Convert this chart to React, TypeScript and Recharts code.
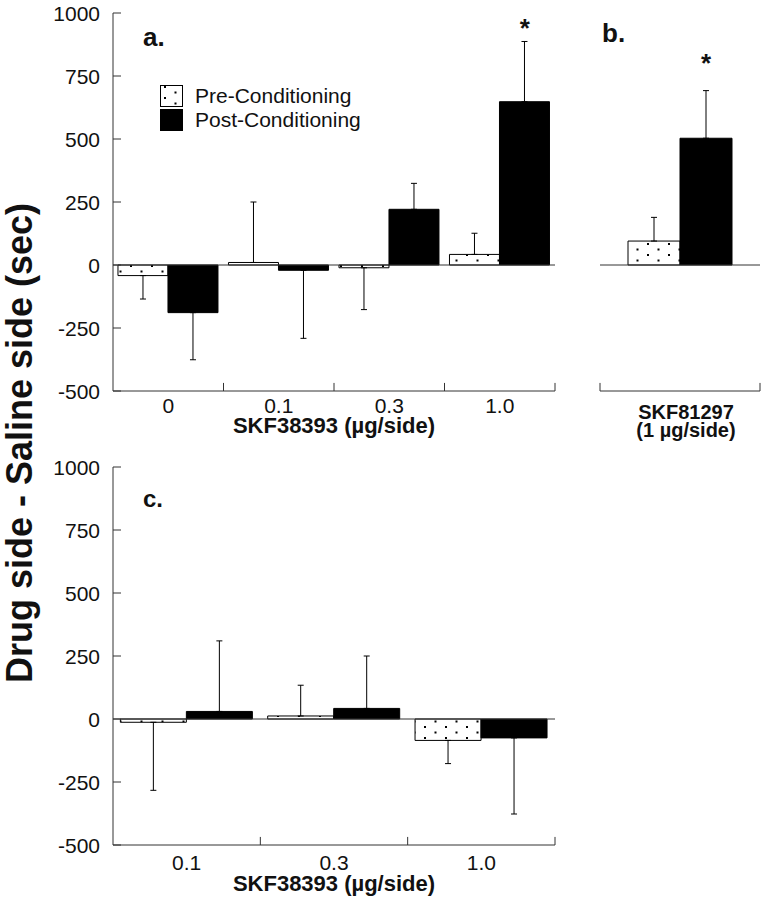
import React from 'react';
import { BarChart, Bar, XAxis, YAxis, ErrorBar, ReferenceLine, ReferenceDot, Legend } from 'recharts';

const FONT = '"Liberation Sans", Arial, Helvetica, sans-serif';
const INK = '#111';
const LINE = '#333';

const yTicks = [-500, -250, 0, 250, 500, 750, 1000];
const seriesNames = ['Pre-Conditioning', 'Post-Conditioning'];
const seriesFills = ['url(#dots)', '#000'];

// a. SKF38393 doses
const doseA = ['0', '0.1', '0.3', '1.0'];
const preA = [-42, 10, -11, 42];
const preSemA = [93, 240, 166, 84];
const postA = [-189, -21, 221, 648];
const postSemA = [187, 270, 103, 239];
const starDoseA = '1.0';
const starYA = 905;

// b. SKF81297 (1 µg/side)
const drugB = ['SKF81297'];
const doseLabelB = ['(1 µg/side)'];
const preB = [95];
const preSemB = [94];
const postB = [503];
const postSemB = [189];
const starYB = 766;

// c. SKF38393 doses (second group)
const doseC = ['0.1', '0.3', '1.0'];
const preC = [-13, 12, -85];
const preSemC = [270, 122, 92];
const postC = [30, 42, -75];
const postSemC = [280, 208, 302];

// one-sided error bars, pointing away from zero
const errPair = (v: number, e: number) => (v < 0 ? [e, 0] : [0, e]);

const buildRows = (cats: string[], pre: number[], preSem: number[], post: number[], postSem: number[]) =>
  cats.map((c, i) => ({
    dose: c,
    pre: pre[i],
    post: post[i],
    preErr: errPair(pre[i], preSem[i]),
    postErr: errPair(post[i], postSem[i]),
  }));

const dataA = buildRows(doseA, preA, preSemA, postA, postSemA);
const dataB = buildRows(drugB, preB, preSemB, postB, postSemB);
const dataC = buildRows(doseC, preC, preSemC, postC, postSemC);

// plain text tick so the size is not lost
const NumTick = (props: any) => {
  const { x, y, payload, textAnchor, verticalAnchor } = props;
  const dy = verticalAnchor === 'middle' ? '0.36em' : '0.72em';
  return (
    <text x={x} y={y} dy={dy} textAnchor={textAnchor} fontSize={21} fill={INK} fontFamily={FONT}>
      {payload.value}
    </text>
  );
};

const Star = (dx: number) => (props: any) => (
  <text x={props.cx + dx} y={props.cy} textAnchor="middle" fontSize={26} fontWeight="bold" fill={INK} fontFamily={FONT}>
    *
  </text>
);

const LegendBox = () => (
  <div style={{ fontFamily: FONT, fontSize: 21, color: INK }}>
    {seriesNames.map((name, i) => (
      <div key={name} style={{ display: 'flex', alignItems: 'center', height: 24 }}>
        <svg width={23} height={22} style={{ display: 'block' }}>
          <rect x={0.5} y={0.5} width={22} height={21} fill={seriesFills[i]} stroke="#000" />
        </svg>
        <span style={{ marginLeft: 12, whiteSpace: 'nowrap' }}>{name}</span>
      </div>
    ))}
  </div>
);

const DrugTick = (props: any) => {
  const { x, y, index } = props;
  return (
    <g>
      <text x={x + 6} y={y + 28} textAnchor="middle" fontSize={20} fontWeight="bold" fill={INK} fontFamily={FONT}>
        {drugB[index]}
      </text>
      <text x={x + 6} y={y + 46} textAnchor="middle" fontSize={20} fontWeight="bold" fill={INK} fontFamily={FONT}>
        {doseLabelB[index]}
      </text>
    </g>
  );
};

const panelLetter = (x: number, y: number, s: string, size = 26) => (
  <text x={x} y={y} fontSize={size} fontWeight="bold" fill={INK} fontFamily={FONT}>
    {s}
  </text>
);

export default function App() {
  return (
    <div style={{ position: 'absolute', left: 0, top: 0, width: 762, height: 899, background: '#fff', fontFamily: FONT }}>
      <svg width={0} height={0} style={{ position: 'absolute' }}>
        <defs>
          <pattern id="dots" width={21} height={11} patternUnits="userSpaceOnUse">
            <rect width={21} height={11} fill="#fff" />
            <rect x={4} y={1} width={2} height={2} fill="#000" />
            <rect x={14.5} y={6.5} width={2} height={2} fill="#000" />
          </pattern>
        </defs>
      </svg>

      {/* shared y title */}
      <svg width={60} height={899} style={{ position: 'absolute', left: 0, top: 0 }}>
        <text
          x={32}
          y={443}
          transform="rotate(-90 32 443)"
          textAnchor="middle"
          fontSize={36}
          fontWeight="bold"
          fill={INK}
          fontFamily={FONT}
        >
          Drug side - Saline side (sec)
        </text>
      </svg>

      {/* a. */}
      <div style={{ position: 'absolute', left: 0, top: 0 }}>
        <BarChart width={580} height={460} data={dataA} margin={{ top: 13, right: 25, bottom: 9, left: 0 }} barCategoryGap="4.5%" barGap={0}>
          <XAxis
            dataKey="dose"
            height={60}
            interval={0}
            tickLine={false}
            tickSize={0}
            tickMargin={7}
            axisLine={{ stroke: LINE }}
            tick={<NumTick />}
            label={{ value: 'SKF38393 (µg/side)', position: 'insideBottom', offset: 18, fontSize: 22, fontWeight: 'bold', fill: INK, fontFamily: FONT }}
          />
          <YAxis
            width={113}
            domain={[-500, 1000]}
            ticks={yTicks}
            interval={0}
            tickSize={-8}
            tickMargin={21}
            axisLine={{ stroke: LINE }}
            tickLine={{ stroke: LINE }}
            tick={<NumTick />}
          />
          <ReferenceLine y={0} stroke={LINE} ifOverflow="visible" />
          {doseA.map((d) => (
            <ReferenceLine key={d} segment={[{ x: d, y: -500 }, { x: d, y: -468 }]} position="end" stroke={LINE} ifOverflow="visible" />
          ))}
          <Bar dataKey="pre" name={seriesNames[0]} fill={seriesFills[0]} stroke="#000" strokeWidth={1} isAnimationActive={false}>
            <ErrorBar dataKey="preErr" direction="y" width={3} stroke="#000" strokeWidth={1} />
          </Bar>
          <Bar dataKey="post" name={seriesNames[1]} fill={seriesFills[1]} stroke="#000" strokeWidth={1} isAnimationActive={false}>
            <ErrorBar dataKey="postErr" direction="y" width={3} stroke="#000" strokeWidth={1} />
          </Bar>
          <ReferenceDot x={starDoseA} y={starYA} r={0} ifOverflow="visible" shape={Star(25)} />
          <Legend layout="vertical" align="center" verticalAlign="middle" wrapperStyle={{ left: 160, top: 84, width: 'auto', height: 'auto' }} content={LegendBox} />
          {panelLetter(143, 46, 'a.')}
        </BarChart>
      </div>

      {/* b. */}
      <div style={{ position: 'absolute', left: 580, top: 0 }}>
        <BarChart width={182} height={460} data={dataB} margin={{ top: 13, right: 2, bottom: 9, left: 20 }} barCategoryGap="17.5%" barGap={0}>
          <XAxis dataKey="dose" height={60} interval={0} tickLine={false} tickSize={0} tickMargin={0} axisLine={{ stroke: LINE }} tick={<DrugTick />} />
          <YAxis hide domain={[-500, 1000]} ticks={yTicks} />
          <ReferenceLine y={0} stroke={LINE} ifOverflow="visible" />
          <ReferenceLine segment={[{ x: drugB[0], y: -500 }, { x: drugB[0], y: -468 }]} position="start" stroke={LINE} ifOverflow="visible" />
          <ReferenceLine segment={[{ x: drugB[0], y: -500 }, { x: drugB[0], y: -468 }]} position="end" stroke={LINE} ifOverflow="visible" />
          <Bar dataKey="pre" name={seriesNames[0]} fill={seriesFills[0]} stroke="#000" strokeWidth={1} isAnimationActive={false}>
            <ErrorBar dataKey="preErr" direction="y" width={3} stroke="#000" strokeWidth={1} />
          </Bar>
          <Bar dataKey="post" name={seriesNames[1]} fill={seriesFills[1]} stroke="#000" strokeWidth={1} isAnimationActive={false}>
            <ErrorBar dataKey="postErr" direction="y" width={3} stroke="#000" strokeWidth={1} />
          </Bar>
          <ReferenceDot x={drugB[0]} y={starYB} r={0} ifOverflow="visible" shape={Star(26)} />
          {panelLetter(22, 42, 'b.')}
        </BarChart>
      </div>

      {/* c. */}
      <div style={{ position: 'absolute', left: 0, top: 450 }}>
        <BarChart width={580} height={449} data={dataC} margin={{ top: 17, right: 25, bottom: 0, left: 0 }} barCategoryGap="5%" barGap={0}>
          <XAxis
            dataKey="dose"
            height={54}
            interval={0}
            tickLine={false}
            tickSize={0}
            tickMargin={10}
            axisLine={{ stroke: LINE }}
            tick={<NumTick />}
            label={{ value: 'SKF38393 (µg/side)', position: 'insideBottom', offset: 8, fontSize: 22, fontWeight: 'bold', fill: INK, fontFamily: FONT }}
          />
          <YAxis
            width={113}
            domain={[-500, 1000]}
            ticks={yTicks}
            interval={0}
            tickSize={-8}
            tickMargin={21}
            axisLine={{ stroke: LINE }}
            tickLine={{ stroke: LINE }}
            tick={<NumTick />}
          />
          <ReferenceLine y={0} stroke={LINE} ifOverflow="visible" />
          {doseC.map((d) => (
            <ReferenceLine key={d} segment={[{ x: d, y: -500 }, { x: d, y: -468 }]} position="end" stroke={LINE} ifOverflow="visible" />
          ))}
          <Bar dataKey="pre" name={seriesNames[0]} fill={seriesFills[0]} stroke="#000" strokeWidth={1} isAnimationActive={false}>
            <ErrorBar dataKey="preErr" direction="y" width={3} stroke="#000" strokeWidth={1} />
          </Bar>
          <Bar dataKey="post" name={seriesNames[1]} fill={seriesFills[1]} stroke="#000" strokeWidth={1} isAnimationActive={false}>
            <ErrorBar dataKey="postErr" direction="y" width={3} stroke="#000" strokeWidth={1} />
          </Bar>
          {panelLetter(143, 57, 'c.', 24)}
        </BarChart>
      </div>
    </div>
  );
}
